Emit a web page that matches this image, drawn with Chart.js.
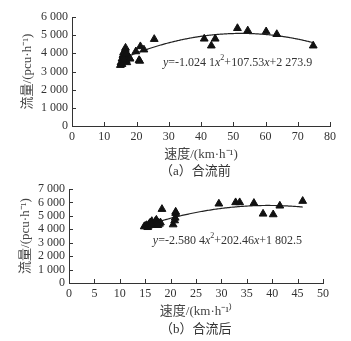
<!DOCTYPE html>
<html>
<head>
<meta charset="utf-8">
<script src="https://cdn.jsdelivr.net/npm/chart.js@4.4.1/dist/chart.umd.min.js"></script>
<style>
body { margin: 0; background: #fff; }
#wrap { position: relative; width: 351px; height: 341px; overflow: hidden; }
#wrap canvas { position: absolute; left: 0; }
.cap { position: absolute; font-family: "Liberation Serif", "Noto Sans CJK SC"; font-size: 13px; color: #333; white-space: nowrap; line-height: 16px; }
</style>
</head>
<body>
<div id="wrap">
  <canvas id="chartA" width="351" height="166" style="top:0;width:351px;height:166px"></canvas>
  <canvas id="chartB" width="351" height="151" style="top:172px;width:351px;height:151px"></canvas>
  <div class="cap" style="left:160px;top:163px">（a）合流前</div>
  <div class="cap" style="left:160px;top:321px">（b）合流后</div>
</div>
<script>
// (a) 合流前 - speed / flow readings
var speedA = [15.0, 15.2, 15.5, 15.8, 16.0, 16.3, 16.8, 17.0, 17.3, 17.8, 16.5, 15.5, 16.2, 17.0, 18.0, 16.6,
              19.8, 21.0, 20.8, 21.2, 22.3, 25.5, 41.0, 43.2, 44.4, 51.3, 54.5, 60.2, 63.5, 74.8];
var flowA  = [3350, 3500, 3700, 3900, 4050, 3800, 3600, 3500, 3800, 3750, 4200, 3400, 3650, 4000, 3700, 4300,
              4100, 3580, 3620, 4380, 4200, 4780, 4800, 4420, 4800, 5380, 5250, 5200, 5050, 4420];
var fitA = [-1.0241, 107.53, 2273.9];   // y = a x^2 + b x + c
var fitRangeA = [16, 75];
var xTicksA = [0, 80, 10];
var yTicksA = [0, 6000, 1000];

// (b) 合流后
var speedB = [14.8, 15.0, 15.3, 15.6, 15.8, 16.0, 16.3, 16.5, 16.8, 17.0, 17.2, 17.5, 17.8, 15.5, 16.2, 18.0, 17.5,
              18.3, 20.5, 20.8, 20.9, 21.0, 21.0, 29.5, 32.8, 33.6, 36.4, 38.2, 40.2, 41.5, 46.0];
var flowB  = [4200, 4250, 4300, 4250, 4400, 4500, 4600, 4400, 4350, 4600, 4700, 4500, 4400, 4150, 4300, 4500, 4300,
              5500, 4350, 4650, 4850, 5200, 5300, 5900, 6000, 6000, 5950, 5150, 5100, 5750, 6100];
var fitB = [-2.5804, 202.46, 1802.5];
var fitRangeB = [15, 46];
var xTicksB = [0, 50, 5];
var yTicksB = [0, 7000, 1000];

var serif = '"Liberation Serif", "Noto Sans CJK SC"';

function fmt(v) {
  return String(v).replace(/\B(?=(\d{3})+(?!\d))/g, ' ');
}

function curve(coef, range) {
  var pts = [];
  for (var x = range[0]; x <= range[1]; x += 0.5) {
    pts.push({ x: x, y: coef[0] * x * x + coef[1] * x + coef[2] });
  }
  return pts;
}

// inward tick marks + equation text
var extras = {
  id: 'extras',
  afterDraw: function (chart, args, opts) {
    var ctx = chart.ctx;
    var xs = chart.scales.x, ys = chart.scales.y;
    ctx.save();
    ctx.strokeStyle = '#333';
    ctx.lineWidth = 1;
    xs.ticks.forEach(function (t) {
      var px = Math.round(xs.getPixelForValue(t.value)) + 0.5;
      ctx.beginPath(); ctx.moveTo(px, ys.bottom); ctx.lineTo(px, ys.bottom - 4); ctx.stroke();
    });
    ys.ticks.forEach(function (t) {
      var py = Math.round(ys.getPixelForValue(t.value)) + 0.5;
      ctx.beginPath(); ctx.moveTo(xs.left, py); ctx.lineTo(xs.left + 4, py); ctx.stroke();
    });
    // equation
    var x = xs.getPixelForValue(opts.at[0]);
    var y = ys.getPixelForValue(opts.at[1]);
    ctx.fillStyle = '#333';
    ctx.textBaseline = 'middle';
    ctx.textAlign = 'left';
    opts.parts.forEach(function (p) {
      var size = p[1] === 'sup' ? 8 : 12;
      ctx.font = (p[1] === 'i' ? 'italic ' : '') + size + 'px ' + serif;
      ctx.fillText(p[0], x, p[1] === 'sup' ? y - 5 : y);
      x += ctx.measureText(p[0]).width;
    });
    ctx.restore();
  }
};

function makeChart(id, speed, flow, coef, range, xt, yt, yw, pad, xTitle, eqAt, eqParts, ytPad) {
  var pts = speed.map(function (s, i) { return { x: s, y: flow[i] }; });
  return new Chart(document.getElementById(id), {
    type: 'scatter',
    data: {
      datasets: [{
        data: pts,
        pointStyle: 'triangle',
        pointRadius: 4.5,
        backgroundColor: '#111',
        borderColor: '#111',
        borderWidth: 1
      }, {
        type: 'line',
        data: curve(coef, range),
        borderColor: '#222',
        borderWidth: 1.2,
        pointRadius: 0,
        tension: 0.3,
        fill: false
      }]
    },
    options: {
      responsive: false,
      animation: false,
      devicePixelRatio: 1,
      layout: { padding: pad },
      plugins: {
        legend: { display: false },
        tooltip: { enabled: false },
        extras: { at: eqAt, parts: eqParts }
      },
      scales: {
        x: {
          type: 'linear',
          min: xt[0], max: xt[1],
          afterFit: function (s) { s.height = 40; },
          grid: { display: false, drawTicks: false },
          border: { display: true, color: '#333', width: 1 },
          ticks: { stepSize: xt[2], count: (xt[1] - xt[0]) / xt[2] + 1, autoSkip: false, maxRotation: 0, padding: 4, color: '#333', font: { family: serif, size: 12 } },
          title: { display: true, text: xTitle, color: '#444', font: { family: serif, size: 13 }, padding: { top: 0, bottom: 4 } }
        },
        y: {
          min: yt[0], max: yt[1],
          afterFit: function (s) { s.width = yw; },
          grid: { display: false, drawTicks: false },
          border: { display: true, color: '#333', width: 1 },
          ticks: { stepSize: yt[2], count: (yt[1] - yt[0]) / yt[2] + 1, autoSkip: false, padding: 4, color: '#333', font: { family: serif, size: 12 }, callback: function (v) { return fmt(v); } },
          title: { display: true, text: '流量/(pcu·h⁻¹)', color: '#444', font: { family: serif, size: 13 }, padding: { top: ytPad, bottom: 0 } }
        }
      }
    },
    plugins: [extras]
  });
}

makeChart('chartA', speedA, flowA, fitA, fitRangeA, xTicksA, yTicksA, 72,
  { left: 0, right: 21, top: 17, bottom: 0 }, '速度/(km·h⁻¹)', [28.2, 3470],
  [['y', 'i'], ['=-1.024 1', ''], ['x', 'i'], ['2', 'sup'], ['+107.53', ''], ['x', 'i'], ['+2 273.9', '']], 20);

makeChart('chartB', speedB, flowB, fitB, fitRangeB, xTicksB, yTicksB, 69,
  { left: 0, right: 28, top: 17, bottom: 0 }, '速度/(km·h⁻¹⁾', [16.5, 3125],
  [['y', 'i'], ['=-2.580 4', ''], ['x', 'i'], ['2', 'sup'], ['+202.46', ''], ['x', 'i'], ['+1 802.5', '']], 18);
</script>
</body>
</html>
